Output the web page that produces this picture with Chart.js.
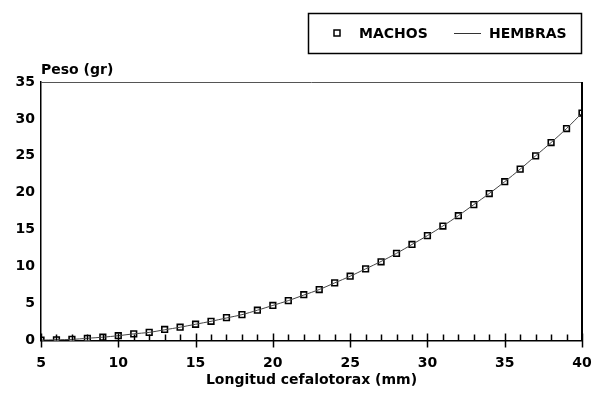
<!DOCTYPE html>
<html>
<head>
<meta charset="utf-8">
<script src="https://cdn.jsdelivr.net/npm/chart.js@4/dist/chart.umd.min.js"></script>
<style>
  body { margin: 0; background: #fff; }
  canvas { display: block; }
</style>
</head>
<body>
<canvas id="myChart" width="600" height="399"></canvas>
<script>
const longitud = [5, 6, 7, 8, 9, 10, 11, 12, 13, 14, 15, 16, 17, 18, 19, 20, 21, 22,
  23, 24, 25, 26, 27, 28, 29, 30, 31, 32, 33, 34, 35, 36, 37, 38, 39, 40];

// peso (gr)
const machos = [0.05, 0.1, 0.15, 0.3, 0.45, 0.65, 0.9, 1.1, 1.5, 1.8, 2.2, 2.6, 3.1, 3.5,
  4.1, 4.75, 5.4, 6.2, 6.9, 7.8, 8.7, 9.7, 10.65, 11.8, 13.0, 14.2, 15.5, 16.9, 18.4,
  19.9, 21.5, 23.2, 25.0, 26.8, 28.7, 30.8];
const hembras = [0.05, 0.1, 0.15, 0.3, 0.45, 0.65, 0.9, 1.1, 1.45, 1.8, 2.2, 2.6, 3.05, 3.5,
  4.1, 4.75, 5.4, 6.15, 6.9, 7.8, 8.7, 9.7, 10.7, 11.8, 13.0, 14.2, 15.5, 16.9, 18.4,
  19.9, 21.5, 23.2, 25.0, 26.8, 28.7, 30.8];

const xTicks = [5, 10, 15, 20, 25, 30, 35, 40];
const yTicks = [0, 5, 10, 15, 20, 25, 30, 35];

const FONT = 'DejaVu Sans';

// marco, marcas del eje x, titulo del eje y y leyenda
const extras = {
  id: 'extras',
  afterDraw(chart) {
    const ctx = chart.ctx;
    const a = chart.chartArea;
    const xs = chart.scales.x;
    ctx.save();
    // marco arriba y derecha
    ctx.strokeStyle = '#555';
    ctx.lineWidth = 1;
    ctx.beginPath();
    ctx.moveTo(a.left, a.top + 0.5);
    ctx.lineTo(a.right, a.top + 0.5);
    ctx.stroke();
    ctx.strokeStyle = '#000';
    ctx.lineWidth = 2;
    ctx.beginPath();
    ctx.moveTo(a.right, a.top);
    ctx.lineTo(a.right, a.bottom);
    ctx.stroke();

    // marcas del eje x
    ctx.lineWidth = 1.5;
    for (let v = xs.min; v <= xs.max; v++) {
      const px = Math.round(xs.getPixelForValue(v)) + 0.5;
      ctx.beginPath();
      if (v % 5 === 0) {
        ctx.moveTo(px, a.bottom - 7);
        ctx.lineTo(px, a.bottom + 7);
      } else {
        ctx.moveTo(px, a.bottom - 6);
        ctx.lineTo(px, a.bottom);
      }
      ctx.stroke();
    }

    // titulo eje y
    ctx.fillStyle = '#000';
    ctx.font = 'bold 14px "' + FONT + '"';
    ctx.textAlign = 'left';
    ctx.textBaseline = 'middle';
    ctx.fillText('Peso (gr)', a.left, 70);

    // leyenda
    ctx.lineWidth = 1.5;
    ctx.strokeRect(308.5, 13.5, 273, 40);
    ctx.lineWidth = 1.5;
    ctx.strokeRect(334, 30, 6, 6);
    ctx.fillText(chart.data.datasets[1].label, 359, 34);
    ctx.lineWidth = 1;
    ctx.strokeStyle = '#333';
    ctx.beginPath();
    ctx.moveTo(454, 33.5);
    ctx.lineTo(481, 33.5);
    ctx.stroke();
    ctx.fillText(chart.data.datasets[0].label, 489, 34);
    ctx.restore();
  }
};

const ctx = document.getElementById('myChart').getContext('2d');

const chart = new Chart(ctx, {
  type: 'line',
  data: {
    datasets: [{
      label: 'HEMBRAS',
      data: longitud.map((x, i) => ({ x: x, y: hembras[i] })),
      borderColor: '#444',
      borderWidth: 1,
      pointRadius: 0,
      tension: 0.3,
      fill: false,
      order: 0
    }, {
      label: 'MACHOS',
      data: longitud.map((x, i) => ({ x: x, y: machos[i] })),
      showLine: false,
      pointStyle: 'rect',
      pointRadius: 4,
      pointBorderWidth: 1.6,
      pointBorderColor: '#000',
      pointBackgroundColor: '#fff',
      order: 1
    }]
  },
  options: {
    responsive: false,
    animation: false,
    layout: { padding: { top: 82, right: 18, left: 0, bottom: 0 } },
    plugins: {
      legend: { display: false },
      tooltip: { enabled: false }
    },
    scales: {
      x: {
        type: 'linear',
        min: 5,
        max: 40,
        afterFit: (s) => { s.height = 58.5; s.paddingLeft = 0; s.paddingRight = 0; },
        afterBuildTicks: (s) => { s.ticks = xTicks.map(v => ({ value: v })); },
        grid: { display: false, drawTicks: false },
        border: { display: true, color: '#000', width: 1.5 },
        ticks: {
          padding: 14,
          color: '#000',
          font: { family: FONT, size: 14, weight: 'bold' }
        },
        title: {
          display: true,
          text: 'Longitud cefalotorax (mm)',
          color: '#000',
          padding: { top: 0, bottom: 10 },
          font: { family: FONT, size: 14, weight: 'bold' }
        }
      },
      y: {
        min: 0,
        max: 35,
        afterFit: (s) => { s.width = 41; },
        afterBuildTicks: (s) => { s.ticks = yTicks.map(v => ({ value: v })); },
        grid: { display: false, drawTicks: false },
        border: { display: true, color: '#000', width: 1.5 },
        ticks: {
          padding: 6,
          color: '#000',
          font: { family: FONT, size: 14, weight: 'bold' }
        }
      }
    }
  },
  plugins: [extras]
});
</script>
</body>
</html>
